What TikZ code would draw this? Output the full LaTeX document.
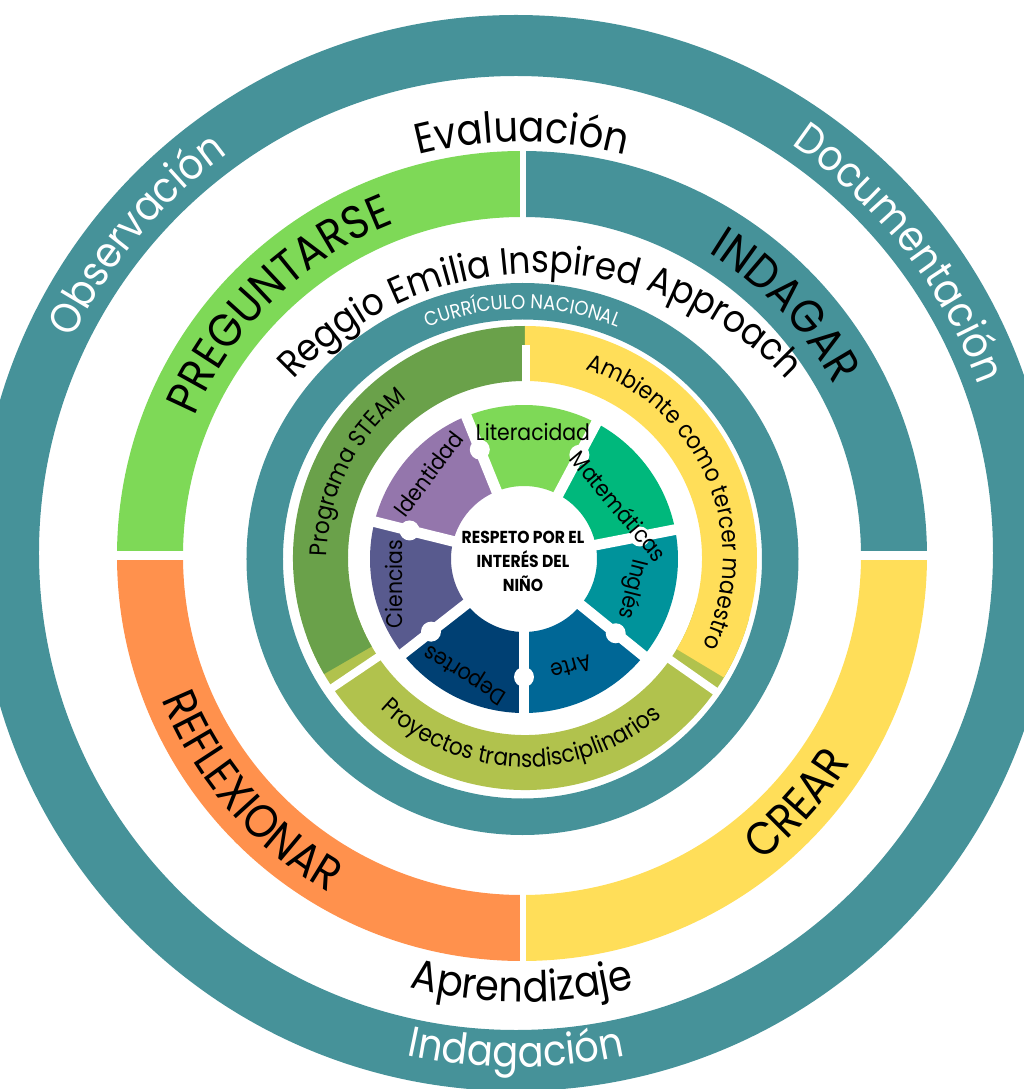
\documentclass[tikz,border=0pt]{standalone}
\usepackage{fontspec}
\setmainfont{Poppins}[FakeStretch=0.9]
\usetikzlibrary{decorations.text}

\definecolor{ringteal}{RGB}{70,146,153}
\definecolor{quadgreen}{RGB}{126,217,87}
\definecolor{quadorange}{RGB}{255,145,77}
\definecolor{quadyellow}{RGB}{255,222,89}
\definecolor{steamgreen}{RGB}{106,161,74}
\definecolor{projolive}{RGB}{177,194,77}
\definecolor{matgreen}{RGB}{0,184,124}
\definecolor{inglesteal}{RGB}{0,147,155}
\definecolor{arteblue}{RGB}{0,103,150}
\definecolor{deportesnavy}{RGB}{0,64,115}
\definecolor{cienciasslate}{RGB}{88,90,142}
\definecolor{identidadpurple}{RGB}{148,118,172}

\newcommand{\fsOuter}{\fontsize{32}{38}\selectfont}
\newcommand{\fsQuad}{\fontsize{35}{42}\selectfont}
\newcommand{\fsReggio}{\fontsize{28.5}{34}\selectfont}
\newcommand{\fsCurr}{\fontsize{15}{18}\selectfont}
\newcommand{\fsMid}{\fontsize{18}{22}\selectfont}

\tikzset{every picture/.style={line width=0.55pt},
  gapline/.style={draw=white, line width=5},
  innergap/.style={draw=white, line width=8},
  knob/.style={fill=white},
  innerlabel/.style={inner sep=0pt, font=\fontsize{17}{20}\selectfont},
  centertext/.style={inner sep=0pt, align=center, font=\bfseries\fontsize{13}{18}\selectfont},
  arctext/.style 2 args={decorate, decoration={text along path, text align=center, text color=#1, text={#2}}}
}

\begin{document}
\begin{tikzpicture}[x=0.75pt,y=0.75pt]
%set diagram: origin at the centre of the rings
\useasboundingbox (-522,-533) rectangle (502,556);

%Shape: Ring [outer]
\fill[ringteal, even odd rule] (-6,3) circle[radius=538] (-6,3) circle[radius=477];

%Shape: Ring sectors [quadrants]
\fill[quadgreen] (90:339) arc[start angle=90,end angle=180,radius=339] -- (180:405) arc[start angle=180,end angle=90,radius=405] -- cycle;
\fill[ringteal] (0:339) arc[start angle=0,end angle=90,radius=339] -- (90:405) arc[start angle=90,end angle=0,radius=405] -- cycle;
\fill[quadorange] (180:339) arc[start angle=180,end angle=270,radius=339] -- (270:405) arc[start angle=270,end angle=180,radius=405] -- cycle;
\fill[quadyellow] (270:339) arc[start angle=270,end angle=360,radius=339] -- (0:405) arc[start angle=360,end angle=270,radius=405] -- cycle;
%Straight Lines [gaps]
\draw[gapline] (1,335) -- (1,410);
\draw[gapline] (1,-335) -- (1,-410);
\draw[gapline, line width=7] (-410,0.5) -- (-335,0.5);
\draw[gapline, line width=7] (335,0.5) -- (410,0.5);

%Shape: Ring [curriculo]
\fill[ringteal, even odd rule] (0.5,-3) circle[radius=276] (0.5,-3) circle[radius=239.5];

%Shape: Ring sectors [middle]
\begin{scope}[shift={(3,-2)}]
\fill[projolive] (200:177) arc[start angle=200,end angle=345,radius=177] -- (345:232) arc[start angle=345,end angle=200,radius=232] -- cycle;
\fill[steamgreen] (90:177) arc[start angle=90,end angle=210,radius=177] -- (210:232) arc[start angle=210,end angle=90,radius=232] -- cycle;
\fill[quadyellow] (-31:177) arc[start angle=-31,end angle=90,radius=177] -- (90:232) arc[start angle=90,end angle=-31,radius=232] -- cycle;
\draw[gapline, line width=6] (214:172) -- (214:236);
\draw[gapline, line width=6] (-35:172) -- (-35:236);
\draw[gapline, line width=6] (1,172) -- (1,213);
\end{scope}

%Shape: Ring sectors [inner]
\begin{scope}[shift={(2,-3)}]
\fill[quadgreen] (62:73) arc[start angle=62,end angle=112,radius=73] -- (112:154) arc[start angle=112,end angle=62,radius=154] -- cycle;
\fill[matgreen] (11:73) arc[start angle=11,end angle=62,radius=73] -- (62:154) arc[start angle=62,end angle=11,radius=154] -- cycle;
\fill[inglesteal] (-39:73) arc[start angle=-39,end angle=11,radius=73] -- (11:154) arc[start angle=11,end angle=-39,radius=154] -- cycle;
\fill[arteblue] (-90:73) arc[start angle=-90,end angle=-39,radius=73] -- (-39:154) arc[start angle=-39,end angle=-90,radius=154] -- cycle;
\fill[deportesnavy] (218:73) arc[start angle=218,end angle=270,radius=73] -- (270:154) arc[start angle=270,end angle=218,radius=154] -- cycle;
\fill[cienciasslate] (166:73) arc[start angle=166,end angle=218,radius=73] -- (218:154) arc[start angle=218,end angle=166,radius=154] -- cycle;
\fill[identidadpurple] (112:73) arc[start angle=112,end angle=166,radius=73] -- (166:154) arc[start angle=166,end angle=112,radius=154] -- cycle;
%Straight Lines [gaps]
\draw[innergap] (62:60) -- (62:160);
\draw[innergap] (112:60) -- (112:160);
\draw[innergap] (166:60) -- (166:160);
\draw[innergap] (218:60) -- (218:160);
\draw[innergap] (270:60) -- (270:160);
\draw[innergap] (-39:60) -- (-39:160);
\draw[innergap] (11:60) -- (11:160);
%Shape: Circles [knobs]
\fill[knob] (62:118) circle[radius=10];
\fill[knob] (112:118) circle[radius=10];
\fill[knob] (166:118) circle[radius=10];
\fill[knob] (218:118) circle[radius=10];
\fill[knob] (270:118) circle[radius=10];
\fill[knob] (-39:118) circle[radius=10];
\fill[knob] (11:118) circle[radius=10];
\end{scope}

% Text along arcs [outer ring]
\path[shift={(-6,3)}, arctext={white}{|\fsOuter|Observación}] (175:492) arc[start angle=175,end angle=105,radius=492];
\path[shift={(-6,3)}, arctext={white}{|\fsOuter|Documentación}] (73:492) arc[start angle=73,end angle=3,radius=492];
\path[shift={(-6,3)}, arctext={white}{|\fsOuter|Indagación}] (235:514) arc[start angle=235,end angle=305,radius=514];
% Text along arcs [white band]
\path[arctext={black}{|\fsOuter|Evaluación}] (125:414) arc[start angle=125,end angle=55,radius=414];
\path[arctext={black}{|\fsOuter|Aprendizaje}] (235:446) arc[start angle=235,end angle=305,radius=446];
% Text along arcs [quadrants]
\path[arctext={black}{|\fsQuad|PREGUNTARSE}] (170:356) arc[start angle=170,end angle=98,radius=356];
\path[arctext={black}{|\fsQuad|INDAGAR}] (79.5:356) arc[start angle=79.5,end angle=7.5,radius=356];
\path[arctext={black}{|\fsQuad|REFLEXIONAR}] (185:388) arc[start angle=185,end angle=257,radius=388];
\path[arctext={black}{|\fsQuad|CREAR}] (-78:388) arc[start angle=-78,end angle=-6,radius=388];
% Text along arcs [approach]
\path[shift={(18,-55)}, arctext={black}{|\fsReggio|Reggio Emilia Inspired Approach}] (180:338) arc[start angle=180,end angle=0,radius=338];
\path[shift={(0.5,-3)}, arctext={white}{|\fsCurr|CURRÍCULO NACIONAL}] (150:250) arc[start angle=150,end angle=30,radius=250];
% Text along arcs [middle ring]
\path[shift={(3,-2)}, arctext={black}{|\fsMid|Programa STEAM}] (200:198) arc[start angle=200,end angle=106,radius=198];
\path[shift={(3,-2)}, arctext={black}{|\fsMid|Ambiente como tercer maestro}] (85:198) arc[start angle=85,end angle=-39,radius=198];
\path[shift={(3,-2)}, arctext={black}{|\fsMid|Proyectos transdisciplinarios}] (209:209) arc[start angle=209,end angle=328,radius=209];

% Text Node
\node[innerlabel] (literacidad) at (11,124) {Literacidad};
% Text Node
\node[innerlabel, rotate=-50] (matematicas) at (97,50) {Matemáticas};
% Text Node
\node[innerlabel, rotate=-104] (ingles) at (110,-33) {Inglés};
% Text Node
\node[innerlabel, rotate=-165] (arte) at (49,-111) {Arte};
% Text Node
\node[innerlabel, rotate=148] (deportes) at (-56,-117) {Deportes};
% Text Node
\node[innerlabel, rotate=90] (ciencias) at (-128,-28) {Ciencias};
% Text Node
\node[innerlabel, rotate=53] (identidad) at (-94,82) {Identidad};
% Text Node
\node[centertext] (respeto) at (1,-5) {RESPETO POR EL\\INTERÉS DEL\\NIÑO};
\end{tikzpicture}
\end{document}
